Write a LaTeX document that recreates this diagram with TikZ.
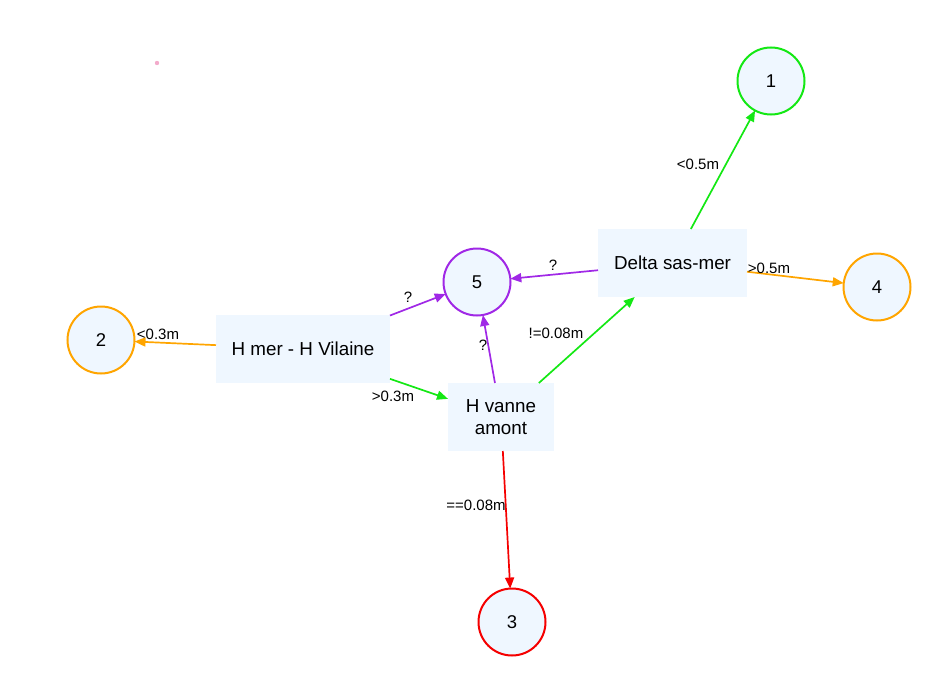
\documentclass[tikz,border=0pt]{standalone}
\usepackage{fontspec}
\setmainfont{Liberation Sans}
\usetikzlibrary{arrows.meta}
\definecolor{cfill}{RGB}{239,247,255}
\definecolor{cgreen}{RGB}{20,232,20}
\definecolor{cpurple}{RGB}{160,40,230}
\definecolor{corange}{RGB}{255,165,0}
\definecolor{cred}{RGB}{245,0,0}
\definecolor{cpink}{RGB}{240,150,190}
\tikzset{
  circ/.style={circle, draw, line width=2pt, fill=cfill, minimum size=67pt, inner sep=0pt, outer sep=0pt, font=\fontsize{18.5}{20}\selectfont},
  boxn/.style={rectangle, fill=cfill, minimum height=68pt, inner sep=0pt, outer sep=0pt, align=center, font=\fontsize{18.8}{22.5}\selectfont},
  edge/.style={line width=1.7pt, -{Triangle[length=11pt,width=9pt]}},
  lab/.style={inner sep=0pt, font=\fontsize{15}{16}\selectfont}
}
\begin{document}
\begin{tikzpicture}[x=1pt,y=-1pt]
\useasboundingbox (0,0) rectangle (948,677);
\fill[cpink, opacity=0.8] (157,63) circle (2.2pt);
% circle nodes
\node[circ, draw=cgreen] (n1) at (771,81) {1};
\node[circ, draw=cpurple] (n5) at (477,282) {5};
\node[circ, draw=corange] (n2) at (101,340) {2};
\node[circ, draw=corange] (n4) at (877,287) {4};
\node[circ, draw=cred] (n3) at (512,622) {3};
% box nodes
\node[boxn, minimum width=149pt] (delta) at (672.5,263) {Delta sas-mer};
\node[boxn, minimum width=174pt] (hmer) at (303,349) {H mer - H Vilaine};
\node[boxn, minimum width=106pt] (hvanne) at (501,417) {H vanne\\amont};
% edges
\draw[edge, cgreen] (delta) -- (n1);
\draw[edge, cpurple] (delta) -- (n5);
\draw[edge, corange] (delta) -- (n4);
\draw[edge, corange] (hmer) -- (n2);
\draw[edge, cpurple] (hmer) -- (n5);
\draw[edge, cgreen] (hmer) -- (hvanne);
\draw[edge, cpurple] (hvanne) -- (n5);
\draw[edge, cgreen] (hvanne) -- (delta);
\draw[edge, cred] (hvanne) -- (n3);
% labels
\node[lab] (l1) at (698,164) {<0.5m};
\node[lab] (l2) at (553,265) {?};
\node[lab] (l3) at (769,268) {>0.5m};
\node[lab] (l4) at (158,334) {<0.3m};
\node[lab] (l5) at (408,297) {?};
\node[lab] (l6) at (393,396) {>0.3m};
\node[lab] (l7) at (483,345) {?};
\node[lab] (l8) at (556,333) {!=0.08m};
\node[lab] (l9) at (476,505) {==0.08m};
\end{tikzpicture}
\end{document}
